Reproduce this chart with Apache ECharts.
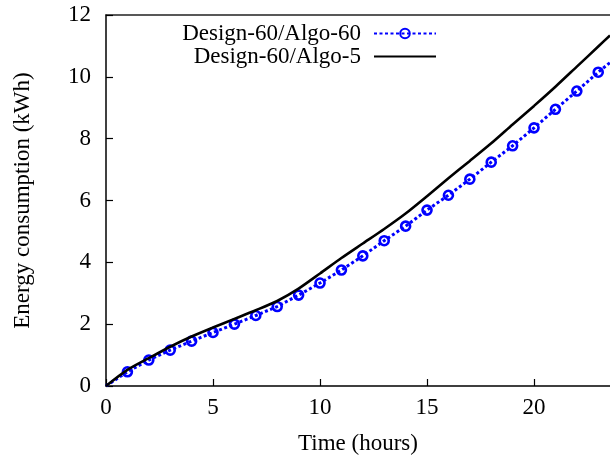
<!DOCTYPE html>
<html>
<head>
<meta charset="utf-8">
<script src="https://cdn.jsdelivr.net/npm/echarts@6/dist/echarts.min.js"></script>
<style>
  html, body { margin: 0; padding: 0; background: #fff; }
  #chart { width: 610px; height: 460px; }
</style>
</head>
<body>
<div id="chart"></div>
<script>
// Cumulative energy over a day, two control algorithms on the same design.
const hours = [1, 2, 3, 4, 5, 6, 7, 8, 9, 10, 11, 12, 13, 14, 15, 16, 17, 18, 19, 20, 21, 22, 23];
const algo60 = [0.46, 0.84, 1.16, 1.45, 1.73, 2.00, 2.28, 2.57, 2.94, 3.33, 3.75, 4.21, 4.70, 5.17,
                5.69, 6.17, 6.69, 7.24, 7.77, 8.35, 8.95, 9.54, 10.15];
const algo5Hours = [0, 1, 2, 3, 4, 5, 6, 7, 8, 9, 10, 11, 12, 13, 14, 15, 16, 17, 18, 19, 20, 21, 22, 23, 23.55];
const algo5 = [0, 0.52, 0.90, 1.27, 1.60, 1.89, 2.17, 2.45, 2.75, 3.15, 3.64, 4.14, 4.61, 5.08, 5.58,
               6.14, 6.72, 7.28, 7.85, 8.46, 9.06, 9.68, 10.33, 10.98, 11.34];
const algo60Start = [0, 0];
const algo60End = [23.55, 10.46];
const xTicks = [0, 5, 10, 15, 20];
const yTicks = [0, 2, 4, 6, 8, 10, 12];

const FONT = 'Liberation Serif';
const BLUE = '#0000ff';

const blueData = [{ value: algo60Start, symbol: 'none' }]
  .concat(hours.map((h, i) => [h, algo60[i]]))
  .concat([{ value: algo60End, symbol: 'none' }]);
const blackData = algo5Hours.map((h, i) => [h, algo5[i]]);

const chart = echarts.init(document.getElementById('chart'), null, { renderer: 'canvas' });
chart.setOption({
  animation: false,
  backgroundColor: '#fff',
  textStyle: { fontFamily: FONT },
  grid: { left: 106, right: 0, top: 15, bottom: 73, containLabel: false },
  legend: {
    orient: 'vertical',
    align: 'right',
    right: 173,
    top: 22,
    itemWidth: 62,
    itemHeight: 12,
    itemGap: 0,
    padding: 0,
    textStyle: { fontFamily: FONT, fontSize: 23, color: '#000', padding: [0, 8, 0, 0] },
    data: [
      { name: 'Design-60/Algo-60' },
      { name: 'Design-60/Algo-5', itemStyle: { opacity: 0 } }
    ]
  },
  xAxis: [{
    type: 'value',
    min: 0,
    max: 23.55,
    interval: 5,
    name: 'Time (hours)',
    nameLocation: 'middle',
    nameGap: 46,
    nameTextStyle: { fontFamily: FONT, fontSize: 23, color: '#000' },
    axisLine: { show: true, onZero: false, lineStyle: { color: '#000', width: 1.5 } },
    axisTick: { show: true, inside: true, length: 7, lineStyle: { color: '#000', width: 1.2 } },
    axisLabel: {
      fontFamily: FONT, fontSize: 23, color: '#000', margin: 10,
      showMaxLabel: false,
      formatter: v => (xTicks.indexOf(v) >= 0 ? String(v) : '')
    },
    splitLine: { show: false }
  }, {
    type: 'value',
    position: 'top',
    min: 0,
    max: 23.55,
    axisLine: { show: true, onZero: false, lineStyle: { color: '#222', width: 1.5 } },
    axisTick: { show: false },
    axisLabel: { show: false },
    splitLine: { show: false }
  }],
  yAxis: {
    type: 'value',
    min: 0,
    max: 12,
    interval: 2,
    name: 'Energy consumption (kWh)',
    nameLocation: 'middle',
    nameGap: 72,
    nameTextStyle: { fontFamily: FONT, fontSize: 23, color: '#000' },
    axisLine: { show: true, onZero: false, lineStyle: { color: '#000', width: 1.5 } },
    axisTick: { show: true, inside: true, length: 7, lineStyle: { color: '#000', width: 1.2 } },
    axisLabel: {
      fontFamily: FONT, fontSize: 23, color: '#000', margin: 15,
      formatter: v => (yTicks.indexOf(v) >= 0 ? String(v) : '')
    },
    splitLine: { show: false }
  },
  series: [{
    name: 'Design-60/Algo-60',
    type: 'line',
    data: blueData,
    symbol: 'circle',
    symbolSize: 9,
    showAllSymbol: true,
    z: 2,
    lineStyle: { color: BLUE, width: 3, type: [3, 2.5] },
    itemStyle: { color: 'rgba(255,255,255,0)', borderColor: BLUE, borderWidth: 2.6 }
  }, {
    name: 'Design-60/Algo-5',
    type: 'line',
    data: blackData,
    symbol: 'none',
    smooth: 0.25,
    z: 3,
    lineStyle: { color: '#000', width: 2.6 },
    itemStyle: { color: '#000' }
  }]
});
</script>
</body>
</html>
